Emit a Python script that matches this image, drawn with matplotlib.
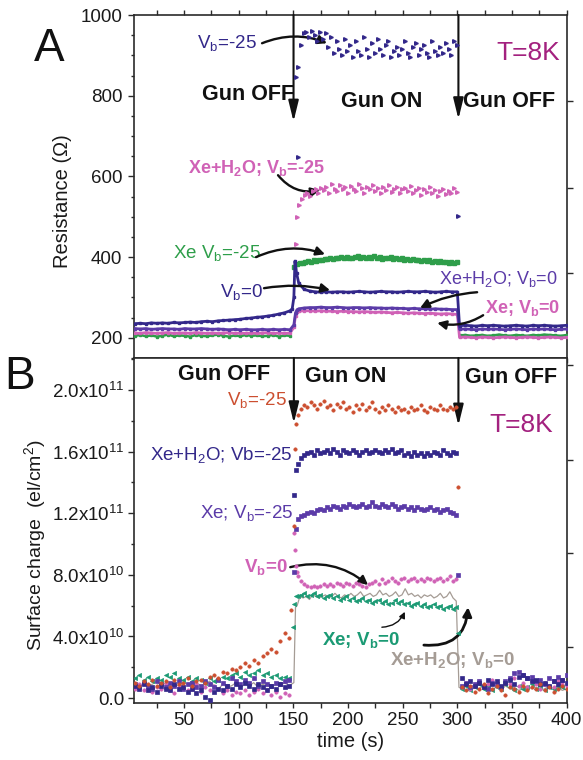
import numpy as np
import matplotlib
matplotlib.use('Agg')
import matplotlib.pyplot as plt
from matplotlib.ticker import MultipleLocator, FixedLocator

plt.rcParams['font.family'] = ['Liberation Sans', 'DejaVu Sans']
plt.rcParams['mathtext.fontset'] = 'custom'
plt.rcParams['mathtext.rm'] = 'Liberation Sans'
plt.rcParams['mathtext.it'] = 'Liberation Sans:italic'
plt.rcParams['mathtext.bf'] = 'Liberation Sans:bold'
plt.rcParams['mathtext.default'] = 'regular'
plt.rcParams['axes.unicode_minus'] = False

NAVY = '#33288a'
PURPLE = '#5b3ba8'
PINK = '#d062b6'
GREEN = '#2e9e4a'
TEAL = '#1b9a74'
ORANGE = '#cc4f30'
GREY = '#a59c95'
TCOL = '#a3217f'

# ---------------- Panel A : resistance (Ohm) ----------------
# Vb=-25 (gun on only)
R_vb25_on = [846, 871, 925, 955, 958, 945, 960, 950, 935, 957, 940, 955, 920, 945, 905, 935,
             915, 900, 940, 910, 925, 895, 935, 910, 900, 945, 915, 895, 930, 905, 940, 915,
             900, 925, 935, 895, 910, 920, 900, 915, 935, 905, 895, 920, 930, 900, 915, 925,
             905, 895, 935, 910, 900, 920, 905, 930, 915, 900, 935, 925]
R_vb25_extra_t = [154.5, 301]
R_vb25_extra = [649, 502]

# Xe+H2O; Vb=-25 (gun on only)
R_h2o25_on = [500, 530, 545, 555, 560, 552, 565, 570, 558, 572, 566, 575, 560, 580, 570, 563,
              578, 568, 574, 560, 576, 570, 565, 580, 572, 560, 575, 568, 578, 565, 572, 560,
              574, 567, 579, 562, 570, 575, 558, 568, 572, 563, 576, 560, 566, 571, 555, 568,
              562, 573, 558, 566, 552, 563, 570, 556, 565, 560, 572, 562]
R_h2o25_extra_t = [152.5]
R_h2o25_extra = [433]

# Xe Vb=-25
R_xe25_pre = [205, 207, 204, 206, 203, 205, 208, 204, 206, 205, 203, 207, 205, 204, 206, 208,
              205, 203, 206, 204, 207, 205, 206, 204, 205, 207, 203, 206, 205]
R_xe25_on = [376, 382, 385, 386, 388, 390, 389, 392, 391, 394, 393, 396, 395, 398, 396, 399,
             397, 400, 398, 401, 399, 397, 400, 402, 398, 400, 397, 401, 399, 403, 398, 400,
             396, 399, 397, 400, 396, 398, 395, 397, 394, 396, 393, 395, 392, 394, 391, 393,
             390, 392, 389, 391, 388, 390, 387, 389, 386, 388, 385, 387]
R_xe25_post = [206, 207, 205, 206, 207, 205, 206, 208, 206, 205, 207, 206, 205, 207, 206, 208,
               207, 206, 205, 207]

# Vb=0
R_vb0_pre = [235, 236, 235, 237, 236, 237, 236, 238, 237, 238, 239, 238, 240, 241, 240, 242,
             243, 244, 245, 246, 248, 249, 251, 252, 254, 256, 259, 262, 267]
R_vb0_jump_t = [149, 150.5, 151.5, 153]
R_vb0_jump = [272, 300, 390, 360]
R_vb0_on = [335, 320, 316, 314, 313, 314, 313, 314, 314, 313, 314, 315, 314, 313, 314, 315,
            314, 314, 313, 314, 315, 314, 314, 315, 314, 313, 314, 315, 314, 314]
R_vb0_post = [230, 231, 230, 229, 231, 230, 231, 230, 229, 230, 231, 230, 229, 231, 230, 231,
              230, 229, 230, 231]

# Xe+H2O; Vb=0
R_h2o0_pre = [223, 222, 223, 221, 222, 223, 222, 222, 221, 223, 222, 222, 223, 222, 221, 222,
              221, 220, 221, 220, 221, 220, 220, 221, 220, 221, 220, 221, 220]
R_h2o0_jump_t = [150.5, 152, 153.5]
R_h2o0_jump = [232, 262, 270]
R_h2o0_on = [272, 274, 275, 275, 276, 275, 275, 276, 275, 274, 275, 275, 274, 275, 274, 274,
             273, 274, 273, 273, 272, 273, 272, 272, 271, 272, 271, 271, 270, 270]
R_h2o0_post = [221, 222, 221, 220, 222, 221, 222, 221, 220, 221, 222, 221, 220, 222, 221, 222,
               221, 220, 221, 222]

# Xe; Vb=0
R_xe0_pre = [212, 211, 213, 212, 211, 212, 213, 211, 212, 212, 211, 213, 212, 211, 212, 211,
             212, 213, 211, 212, 211, 212, 211, 212, 213, 211, 212, 211, 212]
R_xe0_jump_t = [150.5, 152, 153.5]
R_xe0_jump = [226, 255, 263]
R_xe0_on = [266, 267, 267, 266, 267, 266, 266, 265, 266, 265, 265, 264, 265, 264, 263, 264,
            263, 262, 263, 262, 261, 262, 261, 260, 261, 260, 259, 260, 259, 258]
R_xe0_post = [201, 202, 201, 200, 202, 201, 200, 201, 202, 201, 200, 201, 202, 201, 200, 201,
              202, 201, 200, 201]

# ---------------- Panel B : surface charge (units of 1e10 el/cm^2) ----------------
Q_vb25_pre = [1.0, 0.8, 1.1, 0.9, 1.2, 0.8, 1.0, 1.1, 0.7, 1.2, 0.9, 1.0, 1.3, 0.8, 1.1, 1.2,
              1.0, 1.4, 1.5, 1.3, 1.7, 1.6, 1.9, 1.8, 2.0, 2.3, 2.1, 2.5, 2.3, 2.7, 2.9, 3.2,
              3.0, 3.7, 4.2, 3.9]
Q_vb25_jump_t = [148, 150.5, 151.5, 152.5]
Q_vb25_jump = [5.7, 11.2, 16.2, 17.8]
Q_vb25_on = [18.4, 18.8, 19.0, 18.9, 19.2, 19.0, 18.8, 19.1, 19.3, 18.9, 19.0, 18.7, 19.1, 18.9,
             19.2, 18.8, 18.9, 18.6, 19.0, 18.8, 19.1, 18.7, 18.9, 19.2, 18.8, 18.6, 18.9, 18.7,
             19.0, 18.8, 18.6, 18.9, 18.7, 18.8, 18.6, 18.9, 18.7, 18.8, 19.0, 18.7, 18.6, 18.9,
             18.8, 18.7, 19.0, 18.8, 18.7, 18.9, 18.8, 18.9]
Q_vb25_drop_t = [300.5]
Q_vb25_drop = [13.7]
Q_vb25_post = [0.7, 0.5, 0.8, 0.4, 0.6, 0.9, 0.3, 0.6, 0.8, 0.5, 0.2, 0.7, 0.6, 0.4, 0.8, 0.5,
               0.7, 0.6, 0.9, 0.5, 0.7, 0.4, 0.6, 0.8, 0.6]

Q_h2o25_pre = [0.8, 0.6, 0.9, 0.5, 0.7, 0.4, 0.8, 0.6, 0.5, 0.9, 0.6, 0.7, 0.4, 0.6, 0.3, 0.5,
               0.1, -0.1, 0.4, 0.6, 0.5, 0.8, 0.6, 0.9, 0.7, 1.0, 0.8, 0.6, 0.9, 0.7, 0.5, 0.8,
               0.6, 0.9, 0.7, 0.8]
Q_h2o25_jump_t = [150.5, 152]
Q_h2o25_jump = [13.2, 14.8]
Q_h2o25_on = [15.2, 15.6, 15.8, 15.9, 16.0, 15.8, 16.1, 15.9, 16.0, 16.1, 15.9, 16.2, 16.0, 15.8,
              16.1, 16.0, 15.9, 16.1, 16.0, 15.8, 16.0, 16.1, 15.9, 16.0, 16.1, 16.0, 15.9, 16.1,
              16.0, 16.2, 15.9, 16.0, 16.1, 15.8, 15.9, 15.7, 16.0, 15.8, 15.9, 15.7, 15.9, 15.8,
              16.0, 15.9, 15.8, 16.1, 15.9, 15.8, 16.0, 15.9]
Q_h2o25_post = [1.3, 0.9, 1.1, 0.8, 1.0, 0.7, 1.2, 0.9, 1.1, 0.8, 1.0, 1.2, 0.9, 1.4, 1.5, 1.3,
                1.1, 1.2, 0.9, 1.0, 0.8, 1.1, 0.9, 1.2, 1.0]

Q_xe25_pre = [0.9, 0.7, 1.0, 0.8, 0.6, 1.1, 0.9, 0.7, 1.0, 0.8, 1.1, 0.6, 0.9, 1.0, 0.7, 0.8,
              1.1, 0.9, 0.7, 1.2, 1.0, 0.8, 1.3, 1.1, 0.9, 1.2, 1.0, 1.3, 0.8, 1.1, 0.9, 0.8,
              1.0, 0.9, 1.1, 1.2]
Q_xe25_jump_t = [150.5, 152.5]
Q_xe25_jump = [8.2, 11.0]
Q_xe25_on = [11.6, 11.8, 11.9, 12.0, 12.1, 12.0, 12.2, 12.3, 12.2, 12.4, 12.3, 12.5, 12.4, 12.3,
             12.5, 12.4, 12.6, 12.5, 12.4, 12.5, 12.6, 12.4, 12.5, 12.7, 12.5, 12.4, 12.6, 12.5,
             12.4, 12.6, 12.5, 12.3, 12.4, 12.5, 12.3, 12.4, 12.2, 12.4, 12.3, 12.2, 12.3, 12.4,
             12.2, 12.3, 12.1, 12.2, 12.3, 12.1, 12.0, 11.9]
Q_xe25_drop_t = [300.5]
Q_xe25_drop = [8.0]
Q_xe25_post = [0.8, 1.0, 0.7, 0.9, 1.1, 0.8, 0.6, 1.0, 0.9, 0.7, 1.1, 1.3, 1.6, 1.7, 1.5, 1.3,
               1.4, 1.1, 1.2, 0.9, 1.3, 1.1, 1.4, 1.2, 1.5]

Q_vb0_pre = [0.6, 0.9, 0.5, 0.8, 0.4, 0.7, 0.6, 0.9, 0.5, 0.3, 0.7, 0.8, 0.5, 0.6, 0.9, 0.4,
             0.7, 0.5, 0.8, 0.6, 0.3, 0.5, 0.2, 0.4, 0.3, 0.5, 0.2, 0.4, 0.6, 0.3, 0.5, 0.2,
             0.4, 0.1, 0.3, 0.2]
Q_vb0_jump_t = [150.5, 151.5, 152.5, 153.5]
Q_vb0_jump = [10.7, 9.6, 8.6, 8.2]
Q_vb0_on = [7.9, 7.6, 7.4, 7.3, 7.2, 7.3, 7.2, 7.3, 7.4, 7.3, 7.4, 7.3, 7.5, 7.4, 7.3, 7.5,
            7.4, 7.3, 7.5, 7.4, 7.3, 7.2, 7.4, 7.5, 7.6, 7.4, 7.7, 7.5, 7.6, 7.8, 7.6, 7.5,
            7.7, 7.8, 7.6, 7.7, 7.8, 7.6, 7.7, 7.6, 7.8, 7.7, 7.6, 7.7, 7.8, 7.6, 7.7, 7.9,
            7.6, 7.7]
Q_vb0_post = [0.7, 1.0, 0.6, 0.8, 1.1, 0.7, 0.9, 1.2, 0.8, 0.6, 1.0, 0.9, 1.3, 0.8, 1.0, 0.7,
              1.1, 0.9, 0.6, 1.0, 0.8, 0.7, 1.1, 0.9, 0.8]

Q_xe0_pre = [1.3, 1.5, 1.2, 1.4, 1.1, 1.3, 1.2, 1.5, 1.4, 1.6, 1.3, 1.2, 1.4, 1.1, 1.3, 1.2,
             1.0, 1.3, 1.1, 1.2, 1.4, 1.3, 1.5, 1.6, 1.4, 1.7, 1.5, 1.6, 1.8, 1.5, 1.6, 1.4,
             1.5, 1.3, 1.4, 1.3]
Q_xe0_jump_t = [150, 151, 152]
Q_xe0_jump = [4.6, 6.1, 6.6]
Q_xe0_on = [6.6, 6.7, 6.8, 6.6, 6.7, 6.8, 6.6, 6.7, 6.5, 6.6, 6.7, 6.5, 6.6, 6.4, 6.5, 6.6,
            6.4, 6.5, 6.3, 6.4, 6.5, 6.3, 6.4, 6.2, 6.3, 6.4, 6.2, 6.3, 6.1, 6.2, 6.4, 6.2,
            6.3, 6.1, 6.2, 6.0, 6.1, 6.2, 6.0, 6.1, 5.9, 6.0, 6.1, 5.9, 6.0, 5.8, 5.9, 6.0,
            5.8, 5.9]
Q_xe0_drop_t = [300.5]
Q_xe0_drop = [4.2]
Q_xe0_post = [0.6, 0.8, 0.5, 0.7, 0.9, 0.6, 0.8, 0.5, 0.7, 0.6, 0.9, 0.7, 0.5, 0.8, 0.6, 0.7,
              0.9, 0.6, 0.8, 0.5, 0.7, 0.6, 0.8, 0.7, 0.6]

Q_h2o0_pre = [0.9, 0.7, 1.0, 0.8, 0.9, 1.1, 0.8, 1.0, 0.7, 0.9, 0.8, 1.0, 0.9, 0.7, 1.0, 0.8,
              0.9, 1.1, 0.8, 0.6, 0.9, 0.7, 0.8, 1.0, 0.7, 0.9, 0.8, 1.0, 0.7, 0.9, 0.8, 0.7,
              0.9, 0.8, 1.0, 0.8]
Q_h2o0_jump_t = [150.5, 152, 153.5]
Q_h2o0_jump = [1.0, 5.9, 6.0]
Q_h2o0_on = [6.6, 6.5, 6.6, 6.4, 6.7, 6.6, 6.5, 6.6, 6.7, 6.5, 6.6, 6.8, 6.6, 6.5, 6.7, 6.6,
             6.8, 6.6, 6.7, 6.9, 6.6, 6.7, 6.8, 6.6, 6.7, 7.0, 6.7, 6.8, 6.6, 6.7, 6.9, 6.6,
             6.7, 7.1, 6.7, 6.8, 6.6, 6.7, 6.5, 6.7, 6.6, 6.7, 6.5, 6.6, 6.8, 6.5, 6.6, 6.9,
             6.5, 6.3]
Q_h2o0_drop_t = [300.5, 301.5]
Q_h2o0_drop = [3.0, 0.7]
Q_h2o0_post = [0.6, 0.8, 0.5, 0.7, 0.6, 0.8, 0.5, 0.6, 0.7, 0.5, 0.8, 0.6, 0.7, 0.5, 0.6, 0.8,
               0.6, 0.7, 0.5, 0.6, 0.8, 0.6, 0.7, 0.5, 0.6]

# tick labels
x_ticks = [50, 100, 150, 200, 250, 300, 350, 400]
R_ticks = [200, 400, 600, 800, 1000]
Q_ticks = [0.0, 4.0e10, 8.0e10, 1.2e11, 1.6e11, 2.0e11]
Q_tick_labels = ['0.0', '4.0x10$^{10}$', '8.0x10$^{10}$', '1.2x10$^{11}$',
                 '1.6x10$^{11}$', '2.0x10$^{11}$']
SCALE = 1e10


def grid(a, b, vals):
    return np.linspace(a, b, len(vals))


def series(pre=None, jt=None, jv=None, on=None, on_rng=(155, 300), dt=None, dv=None,
           post=None, pre_rng=(5, 147), post_rng=(302, 400)):
    t, v = [], []
    if pre is not None:
        t += list(grid(pre_rng[0], pre_rng[1], pre)); v += list(pre)
    if jt is not None:
        t += list(jt); v += list(jv)
    if on is not None:
        t += list(grid(on_rng[0], on_rng[1], on)); v += list(on)
    if dt is not None:
        t += list(dt); v += list(dv)
    if post is not None:
        t += list(grid(post_rng[0], post_rng[1], post)); v += list(post)
    return np.array(t), np.array(v, dtype=float)


fig = plt.figure(figsize=(5.83, 7.6), dpi=100)
L, R_ = 134 / 583, 567 / 583
ax1 = fig.add_axes([L, 1 - 358 / 760, R_ - L, (358 - 15) / 760])
ax2 = fig.add_axes([L, 1 - 703 / 760, R_ - L, (703 - 358) / 760])

# ---- Panel A plotting ----
t, v = series(pre=R_xe25_pre)
ax1.plot(t, v, color=GREEN, lw=1.8, marker='s', ms=2.0, mec=GREEN, zorder=3)
t, v = series(post=R_xe25_post)
ax1.plot(t, v, color=GREEN, lw=1.8, marker='s', ms=2.0, mec=GREEN, zorder=3)
t, v = series(on=R_xe25_on, on_rng=(151, 299.5))
ax1.plot(t, v, ls='none', marker='s', ms=2.3, color=GREEN, mec=GREEN, zorder=3)
for pre, jt, jv, on, post, c in [
        (R_xe0_pre, R_xe0_jump_t, R_xe0_jump, R_xe0_on, R_xe0_post, PINK),
        (R_h2o0_pre, R_h2o0_jump_t, R_h2o0_jump, R_h2o0_on, R_h2o0_post, PURPLE),
        (R_vb0_pre, R_vb0_jump_t, R_vb0_jump, R_vb0_on, R_vb0_post, NAVY)]:
    t, v = series(pre=pre, jt=jt, jv=jv, on=on, post=post)
    ax1.plot(t, v, color=c, lw=2.0, marker='s', ms=1.6, mec=c, zorder=3)

t, v = series(on=R_h2o25_on, on_rng=(153, 299.5))
ax1.plot(t, v, ls='none', marker='>', ms=2.6, color=PINK, mec=PINK, zorder=4)
ax1.plot(R_h2o25_extra_t, R_h2o25_extra, ls='none', marker='>', ms=2.6, color=PINK, zorder=4)
t, v = series(on=R_vb25_on, on_rng=(152, 299.5))
ax1.plot(t, v, ls='none', marker='>', ms=2.6, color=NAVY, mec=NAVY, zorder=4)
ax1.plot(R_vb25_extra_t, R_vb25_extra, ls='none', marker='>', ms=2.6, color=NAVY, zorder=4)

# ---- Panel B plotting ----
t, v = series(pre=Q_h2o0_pre, pre_rng=(5, 146), jt=Q_h2o0_jump_t, jv=Q_h2o0_jump,
              on=Q_h2o0_on, on_rng=(156, 299), dt=Q_h2o0_drop_t, dv=Q_h2o0_drop,
              post=Q_h2o0_post, post_rng=(304, 400))
ax2.plot(t, v * SCALE, color=GREY, lw=0.9, zorder=3)

for pre, jt, jv, on, dt, dv, post, c, m, ms in [
        (Q_xe0_pre, Q_xe0_jump_t, Q_xe0_jump, Q_xe0_on, Q_xe0_drop_t, Q_xe0_drop, Q_xe0_post, TEAL, '<', 3.0),
        (Q_vb0_pre, Q_vb0_jump_t, Q_vb0_jump, Q_vb0_on, None, None, Q_vb0_post, PINK, 'o', 2.4),
        (Q_xe25_pre, Q_xe25_jump_t, Q_xe25_jump, Q_xe25_on, Q_xe25_drop_t, Q_xe25_drop, Q_xe25_post, PURPLE, 's', 2.6),
        (Q_h2o25_pre, Q_h2o25_jump_t, Q_h2o25_jump, Q_h2o25_on, None, None, Q_h2o25_post, NAVY, 's', 2.6),
        (Q_vb25_pre, Q_vb25_jump_t, Q_vb25_jump, Q_vb25_on, Q_vb25_drop_t, Q_vb25_drop, Q_vb25_post, ORANGE, 'o', 2.4)]:
    t, v = series(pre=pre, pre_rng=(5, 146), jt=jt, jv=jv, on=on, on_rng=(154, 299),
                  dt=dt, dv=dv, post=post, post_rng=(304, 400))
    ax2.plot(t, v * SCALE, ls='none', marker=m, ms=ms, color=c, mec=c, mew=0.5, zorder=4)

# ---- axes styling ----
for ax in (ax1, ax2):
    ax.set_xlim(4.3, 400.3)
    ax.xaxis.set_major_locator(FixedLocator(x_ticks))
    ax.xaxis.set_minor_locator(MultipleLocator(25))
    for s in ax.spines.values():
        s.set_linewidth(1.2)
        s.set_color('#2a2a2a')
    ax.tick_params(axis='both', which='both', colors='#2a2a2a', labelcolor='#1a1a1a',
                   labelsize=13.5, width=1.0)
    ax.tick_params(axis='y', which='major', direction='out', length=4.5, pad=2)
    ax.tick_params(axis='y', which='minor', direction='out', length=2.5)
    ax.tick_params(axis='x', which='major', direction='out', length=3.5, pad=3)
    ax.tick_params(axis='x', which='minor', direction='out', length=3.5)

ax1.set_ylim(150, 1000)
ax1.yaxis.set_major_locator(FixedLocator(R_ticks))
ax1.yaxis.set_minor_locator(MultipleLocator(50))
ax1.tick_params(axis='y', which='major', pad=4)
ax1.tick_params(axis='x', labelbottom=False)
ax1.tick_params(axis='x', which='both', top=True)
ax1.set_ylabel('Resistance (Ω)', fontsize=14.5, color='#1a1a1a')
ax1.yaxis.set_label_coords(-0.143, 0.458)

ax2.set_ylim(-0.32 * SCALE, 22.08 * SCALE)
ax2.yaxis.set_major_locator(FixedLocator(Q_ticks))
ax2.set_yticklabels(Q_tick_labels)
ax2.yaxis.set_minor_locator(MultipleLocator(2.0e10))
ax2.set_ylabel('Surface charge  (el/cm$^2$)', fontsize=14, color='#1a1a1a')
ax2.yaxis.set_label_coords(-0.199, 0.458)
ax2.set_xlabel('time (s)', fontsize=14.5, color='#1a1a1a')
ax2.xaxis.set_label_coords(0.499, -0.084)

# right-side outward ticks (separate scale in original)
for ax, pos in ((ax1, [787, 572, 361]), (ax2, [21.6 * SCALE, 15.45 * SCALE, 9.4 * SCALE, 3.3 * SCALE])):
    tw = ax.twinx()
    tw.set_ylim(ax.get_ylim())
    tw.set_yticks(pos)
    tw.set_yticklabels([])
    tw.tick_params(axis='y', direction='out', length=4, width=1.0, colors='#2a2a2a')
    for s in tw.spines.values():
        s.set_visible(False)


def arrow(ax, tail, head, rad, lw=1.7, ms=13):
    ax.annotate('', xy=head, xytext=tail,
                arrowprops=dict(arrowstyle='-|>', connectionstyle='arc3,rad=%s' % rad,
                                color='#111111', lw=lw, shrinkA=0, shrinkB=0,
                                mutation_scale=ms))


def vline_arrow(ax, x, y0, y1):
    ax.annotate('', xy=(x, y1), xytext=(x, y0), annotation_clip=False,
                arrowprops=dict(arrowstyle='-|>,head_length=0.9,head_width=0.22',
                                color='#111111', lw=1.5, shrinkA=0, shrinkB=0,
                                mutation_scale=14))


# ---- Panel A annotations ----
vline_arrow(ax1, 150.2, 1000, 736)
vline_arrow(ax1, 301, 1000, 742)
ax1.text(150.5, 790, 'Gun OFF', fontsize=15.5, fontweight='bold', color='#111111',
         ha='right', va='baseline')
ax1.text(230.8, 772, 'Gun ON', fontsize=15.5, fontweight='bold', color='#111111',
         ha='center', va='baseline')
ax1.text(305.3, 772, 'Gun OFF', fontsize=15.5, fontweight='bold', color='#111111',
         ha='left', va='baseline')
ax1.text(394, 888, 'T=8K', fontsize=19, color=TCOL, ha='right', va='baseline')
ax1.text(117, 918, 'V$_b$=-25', fontsize=13.5, color=NAVY, ha='right', va='baseline')
ax1.text(53.7, 609, 'Xe+H$_2$O; V$_b$=-25', fontsize=13, fontweight='bold', color=PINK,
         ha='left', va='baseline')
ax1.text(39.9, 398, 'Xe V$_b$=-25', fontsize=13.5, color=GREEN, ha='left', va='baseline')
ax1.text(122.3, 302, 'V$_b$=0', fontsize=13.5, color=NAVY, ha='right', va='baseline')
ax1.text(392.2, 334, 'Xe+H$_2$O; V$_b$=0', fontsize=13, color=PURPLE, ha='right', va='baseline')
ax1.text(394, 262, 'Xe; V$_b$=0', fontsize=13, fontweight='bold', color=PINK,
         ha='right', va='baseline')

arrow(ax1, (121.4, 930), (180.8, 930), -0.2)
arrow(ax1, (136, 603), (174.4, 566), 0.3)
arrow(ax1, (115.9, 400), (179, 407), -0.2)
arrow(ax1, (123.2, 323), (183.6, 318), -0.1)
arrow(ax1, (318.1, 313), (265.9, 274), 0.1)
arrow(ax1, (323.6, 256), (281.6, 237), -0.2)

# ---- Panel B annotations ----
vline_arrow(ax2, 150.5, 22.08 * SCALE, 17.85 * SCALE)
vline_arrow(ax2, 301, 22.08 * SCALE, 17.7 * SCALE)
ax2.text(44.6, 20.65 * SCALE, 'Gun OFF', fontsize=15.5, fontweight='bold', color='#111111',
         ha='left', va='baseline')
ax2.text(160.7, 20.55 * SCALE, 'Gun ON', fontsize=15.5, fontweight='bold', color='#111111',
         ha='left', va='baseline')
ax2.text(307, 20.45 * SCALE, 'Gun OFF', fontsize=15.5, fontweight='bold', color='#111111',
         ha='left', va='baseline')
ax2.text(387.6, 17.3 * SCALE, 'T=8K', fontsize=19, color=TCOL, ha='right', va='baseline')
ax2.text(144.2, 19.0 * SCALE, 'V$_b$=-25', fontsize=13.5, color=ORANGE, ha='right', va='baseline')
ax2.text(149.7, 15.45 * SCALE, 'Xe+H$_2$O; Vb=-25', fontsize=13.5, color=NAVY,
         ha='right', va='baseline')
ax2.text(149.7, 11.7 * SCALE, 'Xe; V$_b$=-25', fontsize=13.5, color=PURPLE,
         ha='right', va='baseline')
ax2.text(145, 8.2 * SCALE, 'V$_b$=0', fontsize=13.5, fontweight='bold', color=PINK,
         ha='right', va='baseline')
ax2.text(176, 3.44 * SCALE, 'Xe; V$_b$=0', fontsize=13.5, fontweight='bold', color=TEAL,
         ha='left', va='baseline')
ax2.text(238.5, 2.14 * SCALE, 'Xe+H$_2$O; V$_b$=0', fontsize=13.5, fontweight='bold',
         color=GREY, ha='left', va='baseline')

arrow(ax2, (147.2, 8.5 * SCALE), (218.4, 7.34 * SCALE), -0.25)
arrow(ax2, (231, 4.6 * SCALE), (252, 5.6 * SCALE), 0.3, lw=1.0, ms=9)
arrow(ax2, (269.4, 3.44 * SCALE), (309.8, 5.9 * SCALE), 0.5, lw=2.0)

fig.text(49 / 583, 1 - 49 / 760, 'A', fontsize=33, color='#111111', ha='center', va='center')
fig.text(20 / 583, 1 - 377 / 760, 'B', fontsize=33, color='#111111', ha='center', va='center')

fig.savefig('out.png', dpi=100)
